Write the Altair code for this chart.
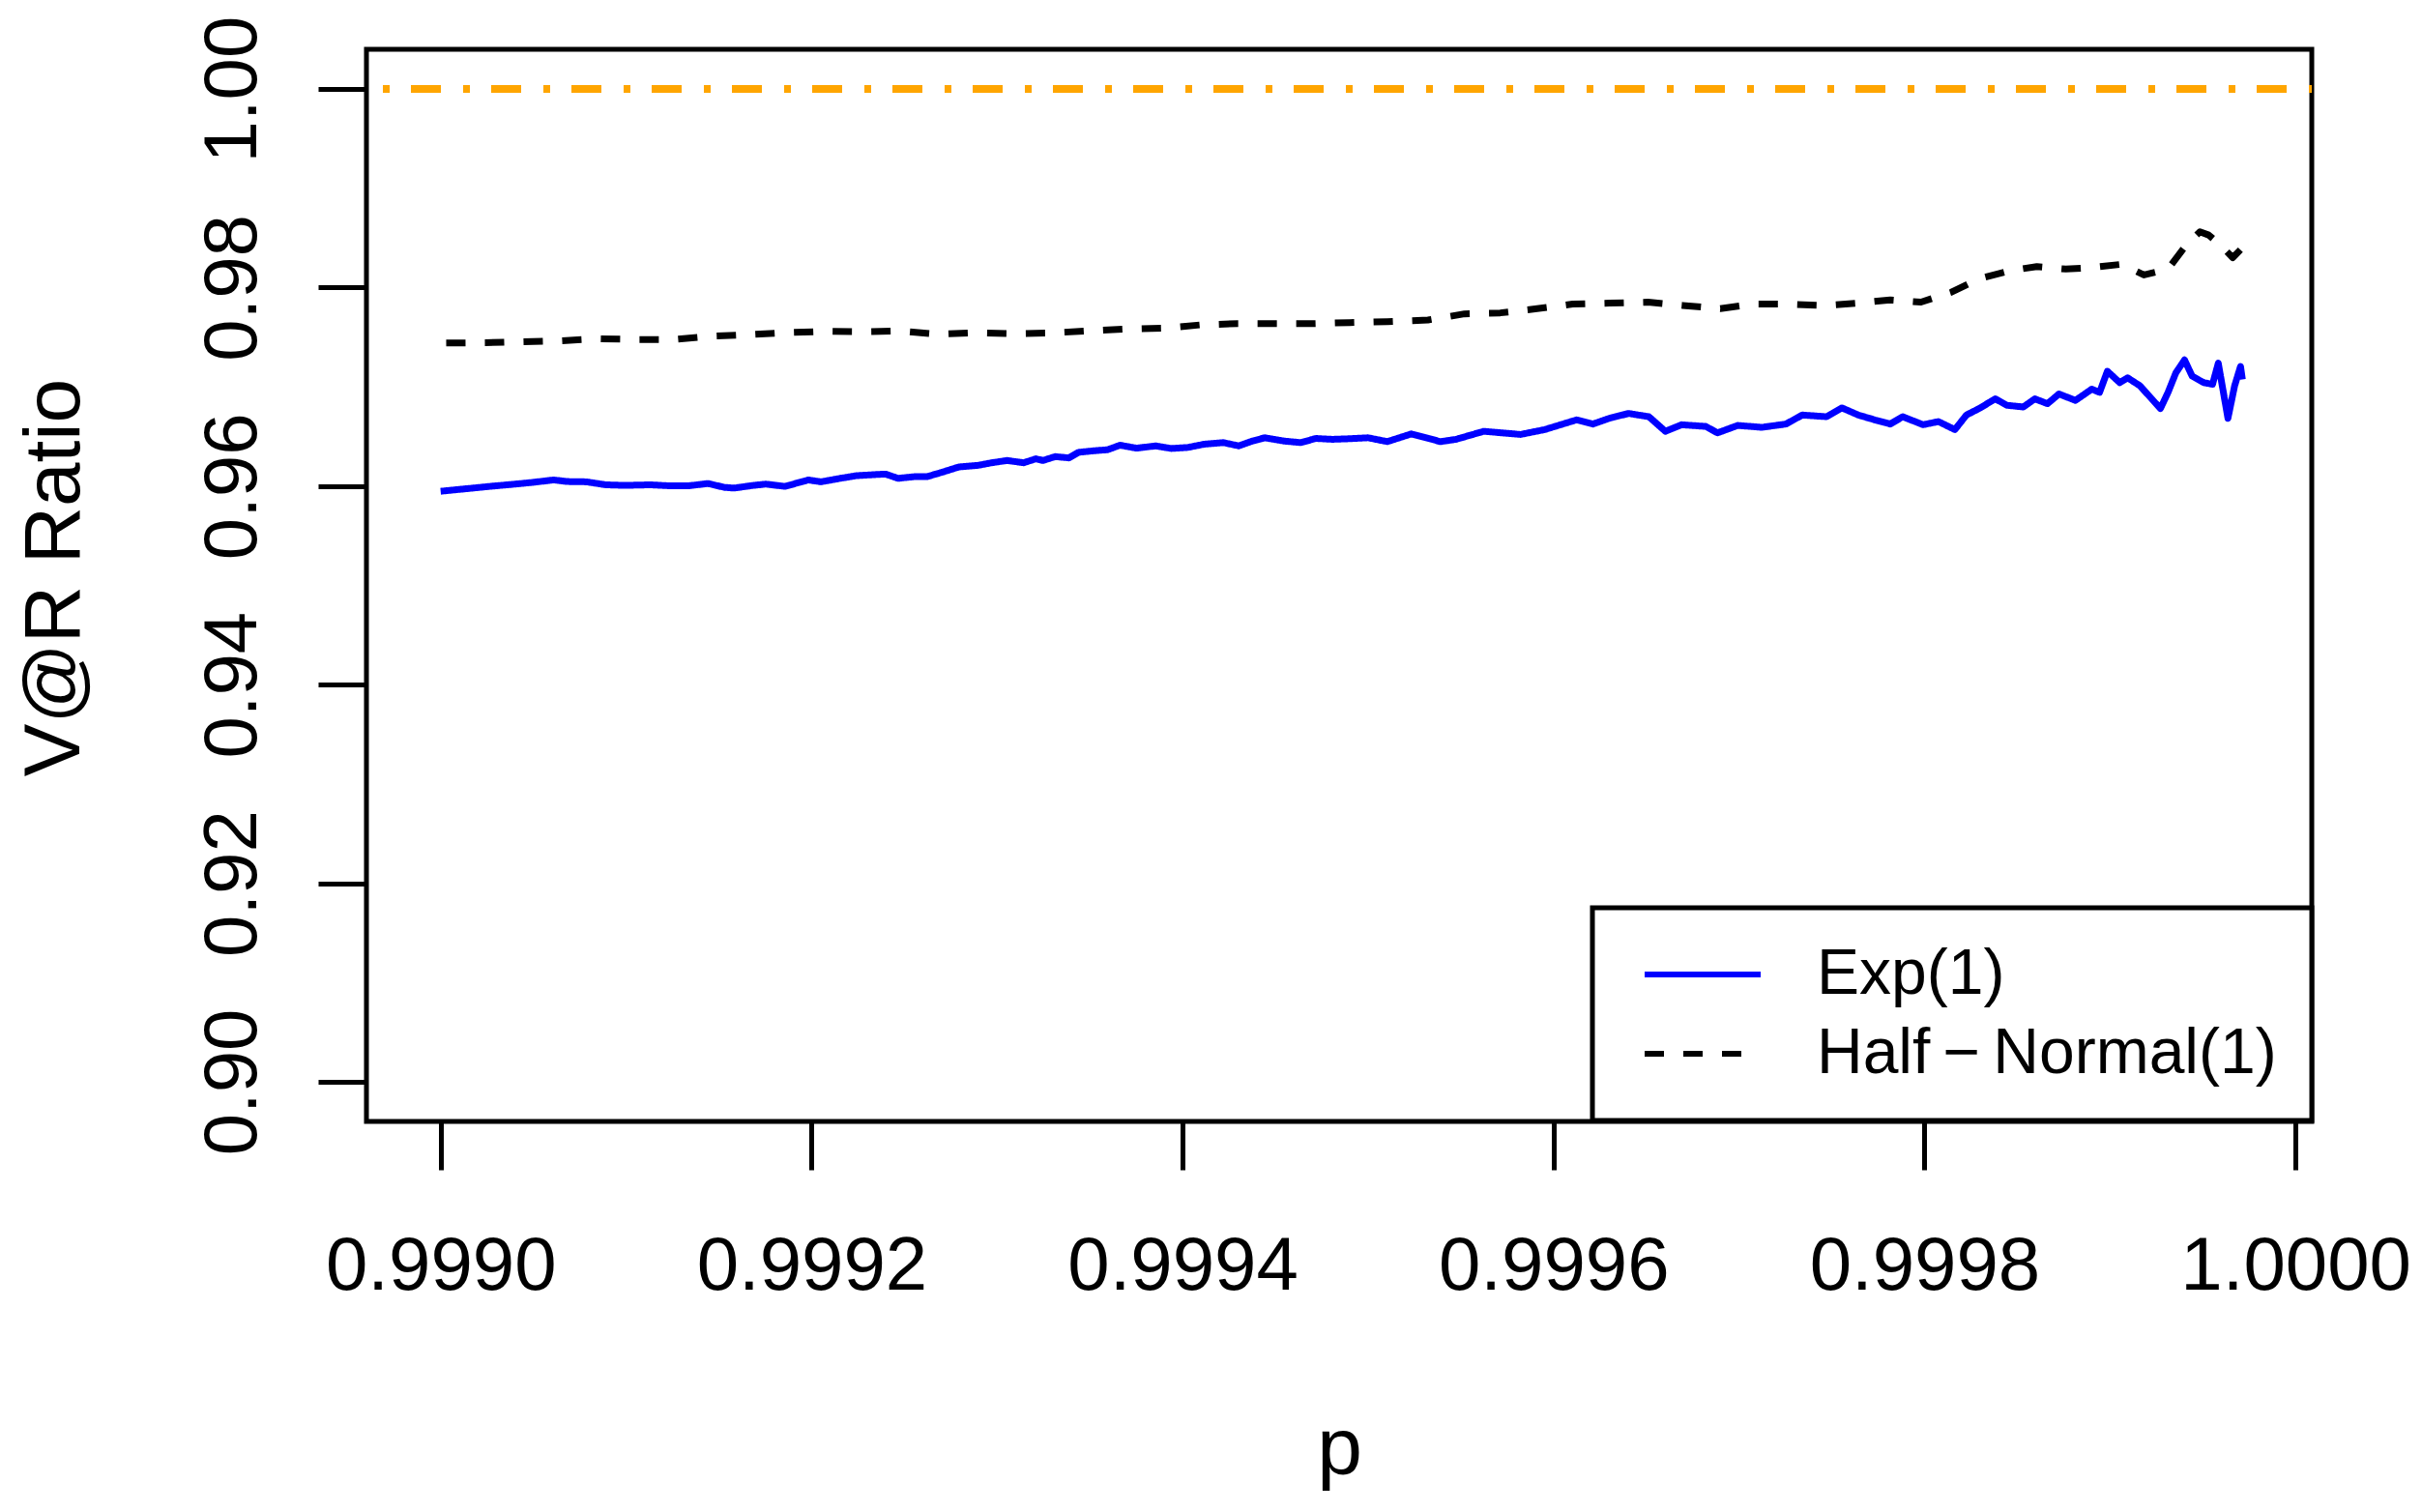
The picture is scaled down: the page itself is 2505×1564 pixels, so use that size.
import altair as alt
import pandas as pd

FONT = "Liberation Sans"

# ---- data ----
series_names = ["Exp(1)", "Half\u2009\u2212\u2009Normal(1)"]
series_colors = ["#0000FF", "#000000"]

exp_p = [0.9990000, 0.9990125, 0.9990265, 0.9990401, 0.9990489, 0.9990609, 0.9990682,
         0.9990786, 0.9990890, 0.9990994, 0.9991129, 0.9991233, 0.9991337, 0.9991441,
         0.9991530, 0.9991582, 0.9991686, 0.9991753, 0.9991857, 0.9991982, 0.9992050,
         0.9992154, 0.9992242, 0.9992362, 0.9992399, 0.9992466, 0.9992555, 0.9992622,
         0.9992711, 0.9992794, 0.9992898, 0.9992971, 0.9993054, 0.9993143, 0.9993210,
         0.9993247, 0.9993314, 0.9993387, 0.9993439, 0.9993522, 0.9993595, 0.9993663,
         0.9993751, 0.9993855, 0.9993939, 0.9994027, 0.9994116, 0.9994220, 0.9994303,
         0.9994376, 0.9994443, 0.9994547, 0.9994636, 0.9994719, 0.9994808, 0.9994896,
         0.9995000, 0.9995104, 0.9995234, 0.9995390, 0.9995474, 0.9995624, 0.9995822,
         0.9995952, 0.9996124, 0.9996212, 0.9996301, 0.9996405, 0.9996514, 0.9996603,
         0.9996691, 0.9996821, 0.9996884, 0.9996993, 0.9997123, 0.9997253, 0.9997341,
         0.9997472, 0.9997555, 0.9997643, 0.9997732, 0.9997815, 0.9997883, 0.9997992,
         0.9998075, 0.9998164, 0.9998226, 0.9998294, 0.9998382, 0.9998444, 0.9998533,
         0.9998595, 0.9998663, 0.9998725, 0.9998814, 0.9998902, 0.9998944, 0.9998986,
         0.9999053, 0.9999095, 0.9999162, 0.9999225, 0.9999272, 0.9999313, 0.9999355,
         0.9999402, 0.9999443, 0.9999506, 0.9999553, 0.9999584, 0.9999636, 0.9999672,
         0.9999704, 0.9999714]
exp_v = [0.95948, 0.95971, 0.95997, 0.96020, 0.96036, 0.96062, 0.96046,
         0.96043, 0.96013, 0.96007, 0.96013, 0.96003, 0.96003, 0.96026,
         0.95987, 0.95980, 0.96007, 0.96020, 0.95997, 0.96062, 0.96043,
         0.96078, 0.96105, 0.96118, 0.96121, 0.96078, 0.96095, 0.96095,
         0.96144, 0.96193, 0.96209, 0.96235, 0.96258, 0.96235, 0.96275,
         0.96258, 0.96297, 0.96284, 0.96340, 0.96356, 0.96366, 0.96412,
         0.96382, 0.96405, 0.96379, 0.96389, 0.96422, 0.96438, 0.96405,
         0.96454, 0.96487, 0.96454, 0.96438, 0.96480, 0.96471, 0.96477,
         0.96487, 0.96448, 0.96526, 0.96448, 0.96471, 0.96552, 0.96520,
         0.96569, 0.96667, 0.96625, 0.96683, 0.96732, 0.96699, 0.96552,
         0.96618, 0.96601, 0.96536, 0.96611, 0.96592, 0.96625, 0.96716,
         0.96699, 0.96788, 0.96716, 0.96667, 0.96625, 0.96699, 0.96618,
         0.96650, 0.96569, 0.96716, 0.96781, 0.96879, 0.96814, 0.96797,
         0.96879, 0.96830, 0.96928, 0.96863, 0.96977, 0.96944, 0.97157,
         0.97042, 0.97091, 0.97010, 0.96879, 0.96781, 0.96944, 0.97140,
         0.97271, 0.97108, 0.97042, 0.97026, 0.97238, 0.96683, 0.97010,
         0.97206, 0.97075]

hn_p = [0.9990030, 0.9990239, 0.9990437, 0.9990645, 0.9990853, 0.9991051, 0.9991259,
        0.9991462, 0.9991670, 0.9991868, 0.9992076, 0.9992274, 0.9992477, 0.9992685,
        0.9992882, 0.9993091, 0.9993288, 0.9993496, 0.9993699, 0.9993897, 0.9994095,
        0.9994298, 0.9994495, 0.9994704, 0.9994901, 0.9995104, 0.9995323, 0.9995520,
        0.9995713, 0.9995911, 0.9996103, 0.9996301, 0.9996509, 0.9996696, 0.9996899,
        0.9997071, 0.9997263, 0.9997461, 0.9997643, 0.9997815, 0.9997981, 0.9998143,
        0.9998294, 0.9998460, 0.9998606, 0.9998762, 0.9998908, 0.9999064, 0.9999183,
        0.9999313, 0.9999412, 0.9999485, 0.9999532, 0.9999594, 0.9999662, 0.9999704]
hn_v = [0.97441, 0.97444, 0.97454, 0.97464, 0.97484, 0.97477, 0.97477,
        0.97510, 0.97526, 0.97546, 0.97559, 0.97556, 0.97562, 0.97529,
        0.97546, 0.97536, 0.97542, 0.97565, 0.97582, 0.97591, 0.97624,
        0.97637, 0.97637, 0.97637, 0.97647, 0.97657, 0.97673, 0.97735,
        0.97745, 0.97787, 0.97833, 0.97843, 0.97853, 0.97820, 0.97787,
        0.97833, 0.97833, 0.97820, 0.97843, 0.97876, 0.97853, 0.97951,
        0.98088, 0.98170, 0.98212, 0.98186, 0.98203, 0.98235, 0.98127,
        0.98186, 0.98431, 0.98562, 0.98529, 0.98431, 0.98301, 0.98382]

ref_value = [1.0]
x_ticks = [0.9990, 0.9992, 0.9994, 0.9996, 0.9998, 1.0000]
y_ticks = [0.90, 0.92, 0.94, 0.96, 0.98, 1.00]
x_domain = [0.99896, 1.0000088]
y_domain = [0.896, 1.004]

# ---- build table ----
df = pd.concat([
    pd.DataFrame({"p": exp_p, "ratio": exp_v, "series": series_names[0]}),
    pd.DataFrame({"p": hn_p, "ratio": hn_v, "series": series_names[1]}),
], ignore_index=True)
ref_df = pd.DataFrame({"ratio": ref_value})

W, H = 2012, 1109

x_enc = alt.X(
    "p:Q",
    scale=alt.Scale(domain=x_domain, nice=False, zero=False),
    axis=alt.Axis(
        values=x_ticks, format=".4f", title="p",
        labelFont=FONT, labelFontSize=78, labelColor="black", labelLimit=0,
        labelBaseline="alphabetic", labelAlign="center", labelPadding=123,
        labelFlush=False, labelOverlap=False, labelBound=False,
        tickSize=50, tickWidth=5, tickColor="black", domain=False, grid=False,
        titleFont=FONT, titleFontSize=84, titleFontWeight="normal", titleColor="black",
        titleBaseline="alphabetic", titleAlign="center", titleX=W / 2, titleY=364,
    ),
)
y_enc = alt.Y(
    "ratio:Q",
    scale=alt.Scale(domain=y_domain, nice=False, zero=False),
    axis=alt.Axis(
        values=y_ticks, format=".2f", title="V@R Ratio",
        labelFont=FONT, labelFontSize=78, labelColor="black", labelLimit=0,
        labelAngle=270, labelAlign="center", labelBaseline="alphabetic",
        labelPadding=65, labelFlush=False, labelOverlap=False, labelBound=False,
        tickSize=50, tickWidth=5, tickColor="black", domain=False, grid=False,
        titleFont=FONT, titleFontSize=82, titleFontWeight="normal", titleColor="black",
        titleAngle=270, titleAlign="center", titleBaseline="alphabetic",
        titleX=-298, titleY=546,
    ),
)

legend_opts = dict(
    orient="none", legendX=1268, legendY=888, title=None,
    symbolType="M-4,0H4", symbolSize=900, symbolStrokeWidth=6,
    symbolOffset=45, symbolFillColor="transparent",
    labelFont=FONT, labelFontSize=66, labelColor="black",
    labelOffset=85, labelLimit=0, padding=36, rowPadding=16,
    fillColor="white", strokeColor="black",
)

lines = alt.Chart(df).mark_line(strokeWidth=7, strokeCap="butt", strokeJoin="round").encode(
    x=x_enc,
    y=y_enc,
    order="p:Q",
    color=alt.Color(
        "series:N",
        scale=alt.Scale(domain=series_names, range=series_colors),
        legend=alt.Legend(**legend_opts),
    ),
    strokeDash=alt.StrokeDash(
        "series:N",
        scale=alt.Scale(domain=series_names, range=[[1, 0], [20, 20]]),
        legend=alt.Legend(**legend_opts),
    ),
)

ref_line = alt.Chart(ref_df).mark_rule(
    color="#FFA500", strokeWidth=8, strokeDash=[31, 22, 7, 23], strokeDashOffset=57
).encode(y=alt.Y("ratio:Q"))

chart = (
    alt.layer(lines, ref_line)
    .properties(
        width=W, height=H,
        autosize=alt.AutoSizeParams(type="none"),
        padding={"left": 371, "top": 43, "right": 106, "bottom": 396},
        background="white",
    )
    .configure_view(stroke="black", strokeWidth=5)
    .configure_legend(strokeWidth=5)
)

chart.save("out.html", embed_options={"renderer": "svg", "actions": False})
